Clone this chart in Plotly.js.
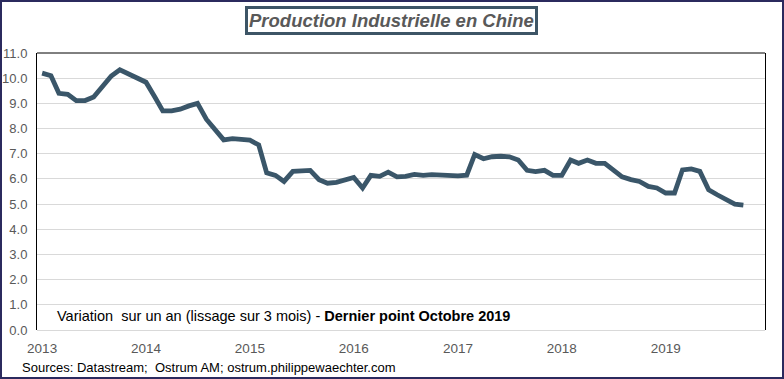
<!DOCTYPE html>
<html>
<head>
<meta charset="utf-8">
<script src="https://cdn.plot.ly/plotly-3.0.1.min.js"></script>
<style>
  html, body { margin: 0; padding: 0; background: #fff; }
  #wrap { position: relative; width: 784px; height: 379px; }
  #chart { width: 784px; height: 379px; }
  #frame { position: absolute; left: 0; top: 0; width: 784px; height: 379px; box-sizing: border-box; border: 2px solid #2b2a5e; pointer-events: none; }
</style>
</head>
<body>
<div id="wrap"><div id="chart"></div><div id="frame"></div></div>
<script>
const startYear = 2013;
const v2013 = [10.2, 10.1, 9.4, 9.36, 9.11, 9.11, 9.25, 9.67, 10.09, 10.33, 10.17, 10.0];
const v2014 = [9.84, 9.25, 8.70, 8.70, 8.77, 8.90, 9.0, 8.37, 7.92, 7.55, 7.6, 7.57];
const v2015 = [7.54, 7.35, 6.24, 6.14, 5.9, 6.3, 6.34, 6.34, 5.97, 5.83, 5.86, 5.94];
const v2016 = [6.06, 5.64, 6.14, 6.1, 6.27, 6.08, 6.1, 6.18, 6.14, 6.17, 6.14, 6.12];
const v2017 = [6.12, 6.15, 6.97, 6.8, 6.88, 6.9, 6.88, 6.75, 6.34, 6.29, 6.34, 6.14];
const v2018 = [6.14, 6.75, 6.62, 6.75, 6.62, 6.62, 6.35, 6.08, 5.97, 5.9, 5.7, 5.64];
const v2019 = [5.44, 5.44, 6.36, 6.4, 6.3, 5.57, 5.37, 5.17, 5.0, 4.96];
const yearTicks = ['2013', '2014', '2015', '2016', '2017', '2018', '2019'];
const titleText = 'Production Industrielle en Chine';
const noteText = 'Variation  sur un an (lissage sur 3 mois) - <b>Dernier point Octobre 2019</b>';
const sourceText = 'Sources: Datastream;  Ostrum AM; ostrum.philippewaechter.com';

const values = [].concat(v2013, v2014, v2015, v2016, v2017, v2018, v2019);
const dates = values.map((_, i) => {
  const y = startYear + Math.floor(i / 12);
  const m = (i % 12) + 1;
  return y + '-' + String(m).padStart(2, '0') + '-01';
});

const font = 'Liberation Sans, Arial, sans-serif';
const trace = {
  x: dates, y: values, type: 'scatter', mode: 'lines',
  line: { color: '#3a5669', width: 4.8 },
  hoverinfo: 'skip'
};
const layout = {
  width: 784, height: 379,
  margin: { l: 37, r: 19, t: 53, b: 49 },
  paper_bgcolor: '#fff', plot_bgcolor: '#fff',
  showlegend: false,
  font: { family: font, color: '#595959', size: 13 },
  xaxis: {
    type: 'date',
    range: ['2012-12-14', '2019-12-16'],
    tickvals: yearTicks.map(y => y + '-01-01'),
    ticktext: yearTicks,
    showgrid: false, zeroline: false, showline: false,
    ticks: '', ticklen: 0, ticklabelstandoff: 8,
    tickfont: { family: font, size: 13.5, color: '#595959' }
  },
  yaxis: {
    range: [0, 11], dtick: 1, tick0: 0, tickformat: '.1f',
    showgrid: true, gridcolor: '#d9d9d9', gridwidth: 1,
    zeroline: true, zerolinecolor: '#d9d9d9', zerolinewidth: 1,
    showline: true, linecolor: '#000', linewidth: 1, mirror: true,
    ticks: '', ticklen: 0, ticklabelstandoff: 6,
    tickfont: { family: font, size: 13, color: '#595959' }
  },
  shapes: [
    { type: 'line', xref: 'paper', yref: 'paper', x0: 0, x1: 1, y0: 1, y1: 1, line: { color: '#000', width: 1 } }
  ],
  annotations: [
    {
      xref: 'paper', yref: 'paper', x: 0.4876, y: 1.119, xanchor: 'center', yanchor: 'middle',
      text: '<b><i>' + titleText + '</i></b>', showarrow: false,
      font: { family: font, size: 18.5, color: '#595959' },
      bordercolor: '#3d5566', borderwidth: 3, borderpad: 1, bgcolor: '#fff'
    },
    {
      xref: 'paper', yref: 'paper', x: 0.0247, y: 0.05, xanchor: 'left', yanchor: 'middle',
      text: noteText, showarrow: false,
      font: { family: font, size: 14.5, color: '#000' }
    },
    {
      xref: 'paper', yref: 'paper', x: -0.0234, y: -0.134, xanchor: 'left', yanchor: 'middle',
      text: sourceText, showarrow: false,
      font: { family: font, size: 13, color: '#000' }
    }
  ]
};
Plotly.newPlot('chart', [trace], layout, { displayModeBar: false, staticPlot: true });
</script>
</body>
</html>
